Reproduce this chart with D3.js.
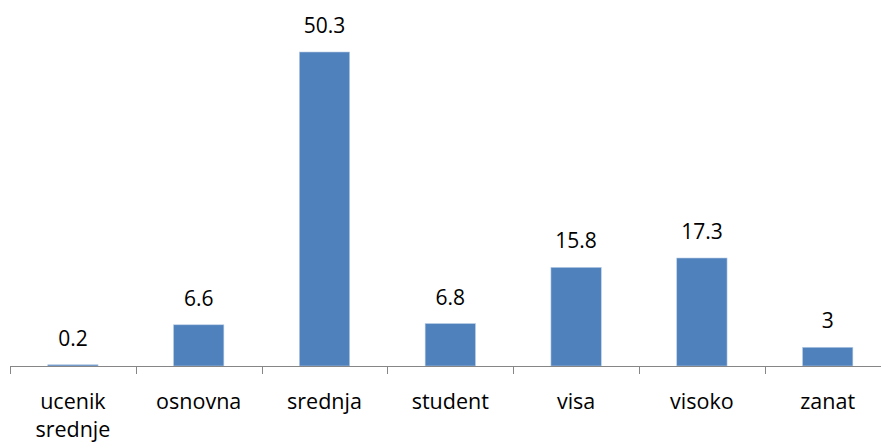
<!DOCTYPE html>
<html>
<head>
<meta charset="utf-8">
<script src="https://cdn.jsdelivr.net/npm/d3@7"></script>
<style>
	body { margin: 0; background: #fff; }
	text { font-family: "Open Sans", sans-serif; fill: #000; }
</style>
</head>
<body>
<svg id="chart" width="881" height="443"></svg>
<script>
var categories = [['ucenik', 'srednje'], ['osnovna'], ['srednja'], ['student'], ['visa'], ['visoko'], ['zanat']];
var values = [0.2, 6.6, 50.3, 6.8, 15.8, 17.3, 3];
var value_labels = ['0.2', '6.6', '50.3', '6.8', '15.8', '17.3', '3'];

var svg = d3.select('#chart');
var axis_y = 366;

var x = d3.scaleBand()
	.domain(d3.range(categories.length))
	.range([10, 10 + 125.8 * categories.length])
	.paddingInner(0.6)
	.paddingOuter(0.3);

var y = d3.scaleLinear().domain([0, 50.3]).range([axis_y, 52]);

svg.selectAll('rect.bar').data(values).enter().append('rect')
	.attr('class', 'bar')
	.attr('x', (d, i) => x(i))
	.attr('width', x.bandwidth())
	.attr('y', d => y(d))
	.attr('height', d => axis_y - y(d))
	.attr('fill', '#4F81BD')
	.attr('stroke', '#B9CDE5')
	.attr('stroke-width', 0.6);

svg.selectAll('text.val').data(values).enter().append('text')
	.attr('class', 'val')
	.attr('x', (d, i) => x(i) + x.bandwidth() / 2)
	.attr('y', d => y(d) - 19)
	.attr('text-anchor', 'middle')
	.attr('font-size', 21)
	.text((d, i) => value_labels[i]);

// axis line and ticks at category boundaries
var step = x.step();
var x0 = 10;
svg.append('line')
	.attr('x1', x0).attr('x2', 881)
	.attr('y1', axis_y + 0.5).attr('y2', axis_y + 0.5)
	.attr('stroke', '#868686').attr('stroke-width', 1);

svg.selectAll('line.tick').data(d3.range(categories.length)).enter().append('line')
	.attr('class', 'tick')
	.attr('x1', i => Math.round(x0 + i * step) + 0.5)
	.attr('x2', i => Math.round(x0 + i * step) + 0.5)
	.attr('y1', axis_y)
	.attr('y2', axis_y + 8)
	.attr('stroke', '#868686').attr('stroke-width', 1);

var cat = svg.selectAll('text.cat').data(categories).enter().append('text')
	.attr('class', 'cat')
	.attr('text-anchor', 'middle')
	.attr('font-size', 21.5);

cat.selectAll('tspan').data((d, i) => d.map(t => ({t: t, i: i}))).enter().append('tspan')
	.attr('x', d => x(d.i) + x.bandwidth() / 2)
	.attr('y', (d, j) => 409 + j * 28)
	.text(d => d.t);
</script>
</body>
</html>
